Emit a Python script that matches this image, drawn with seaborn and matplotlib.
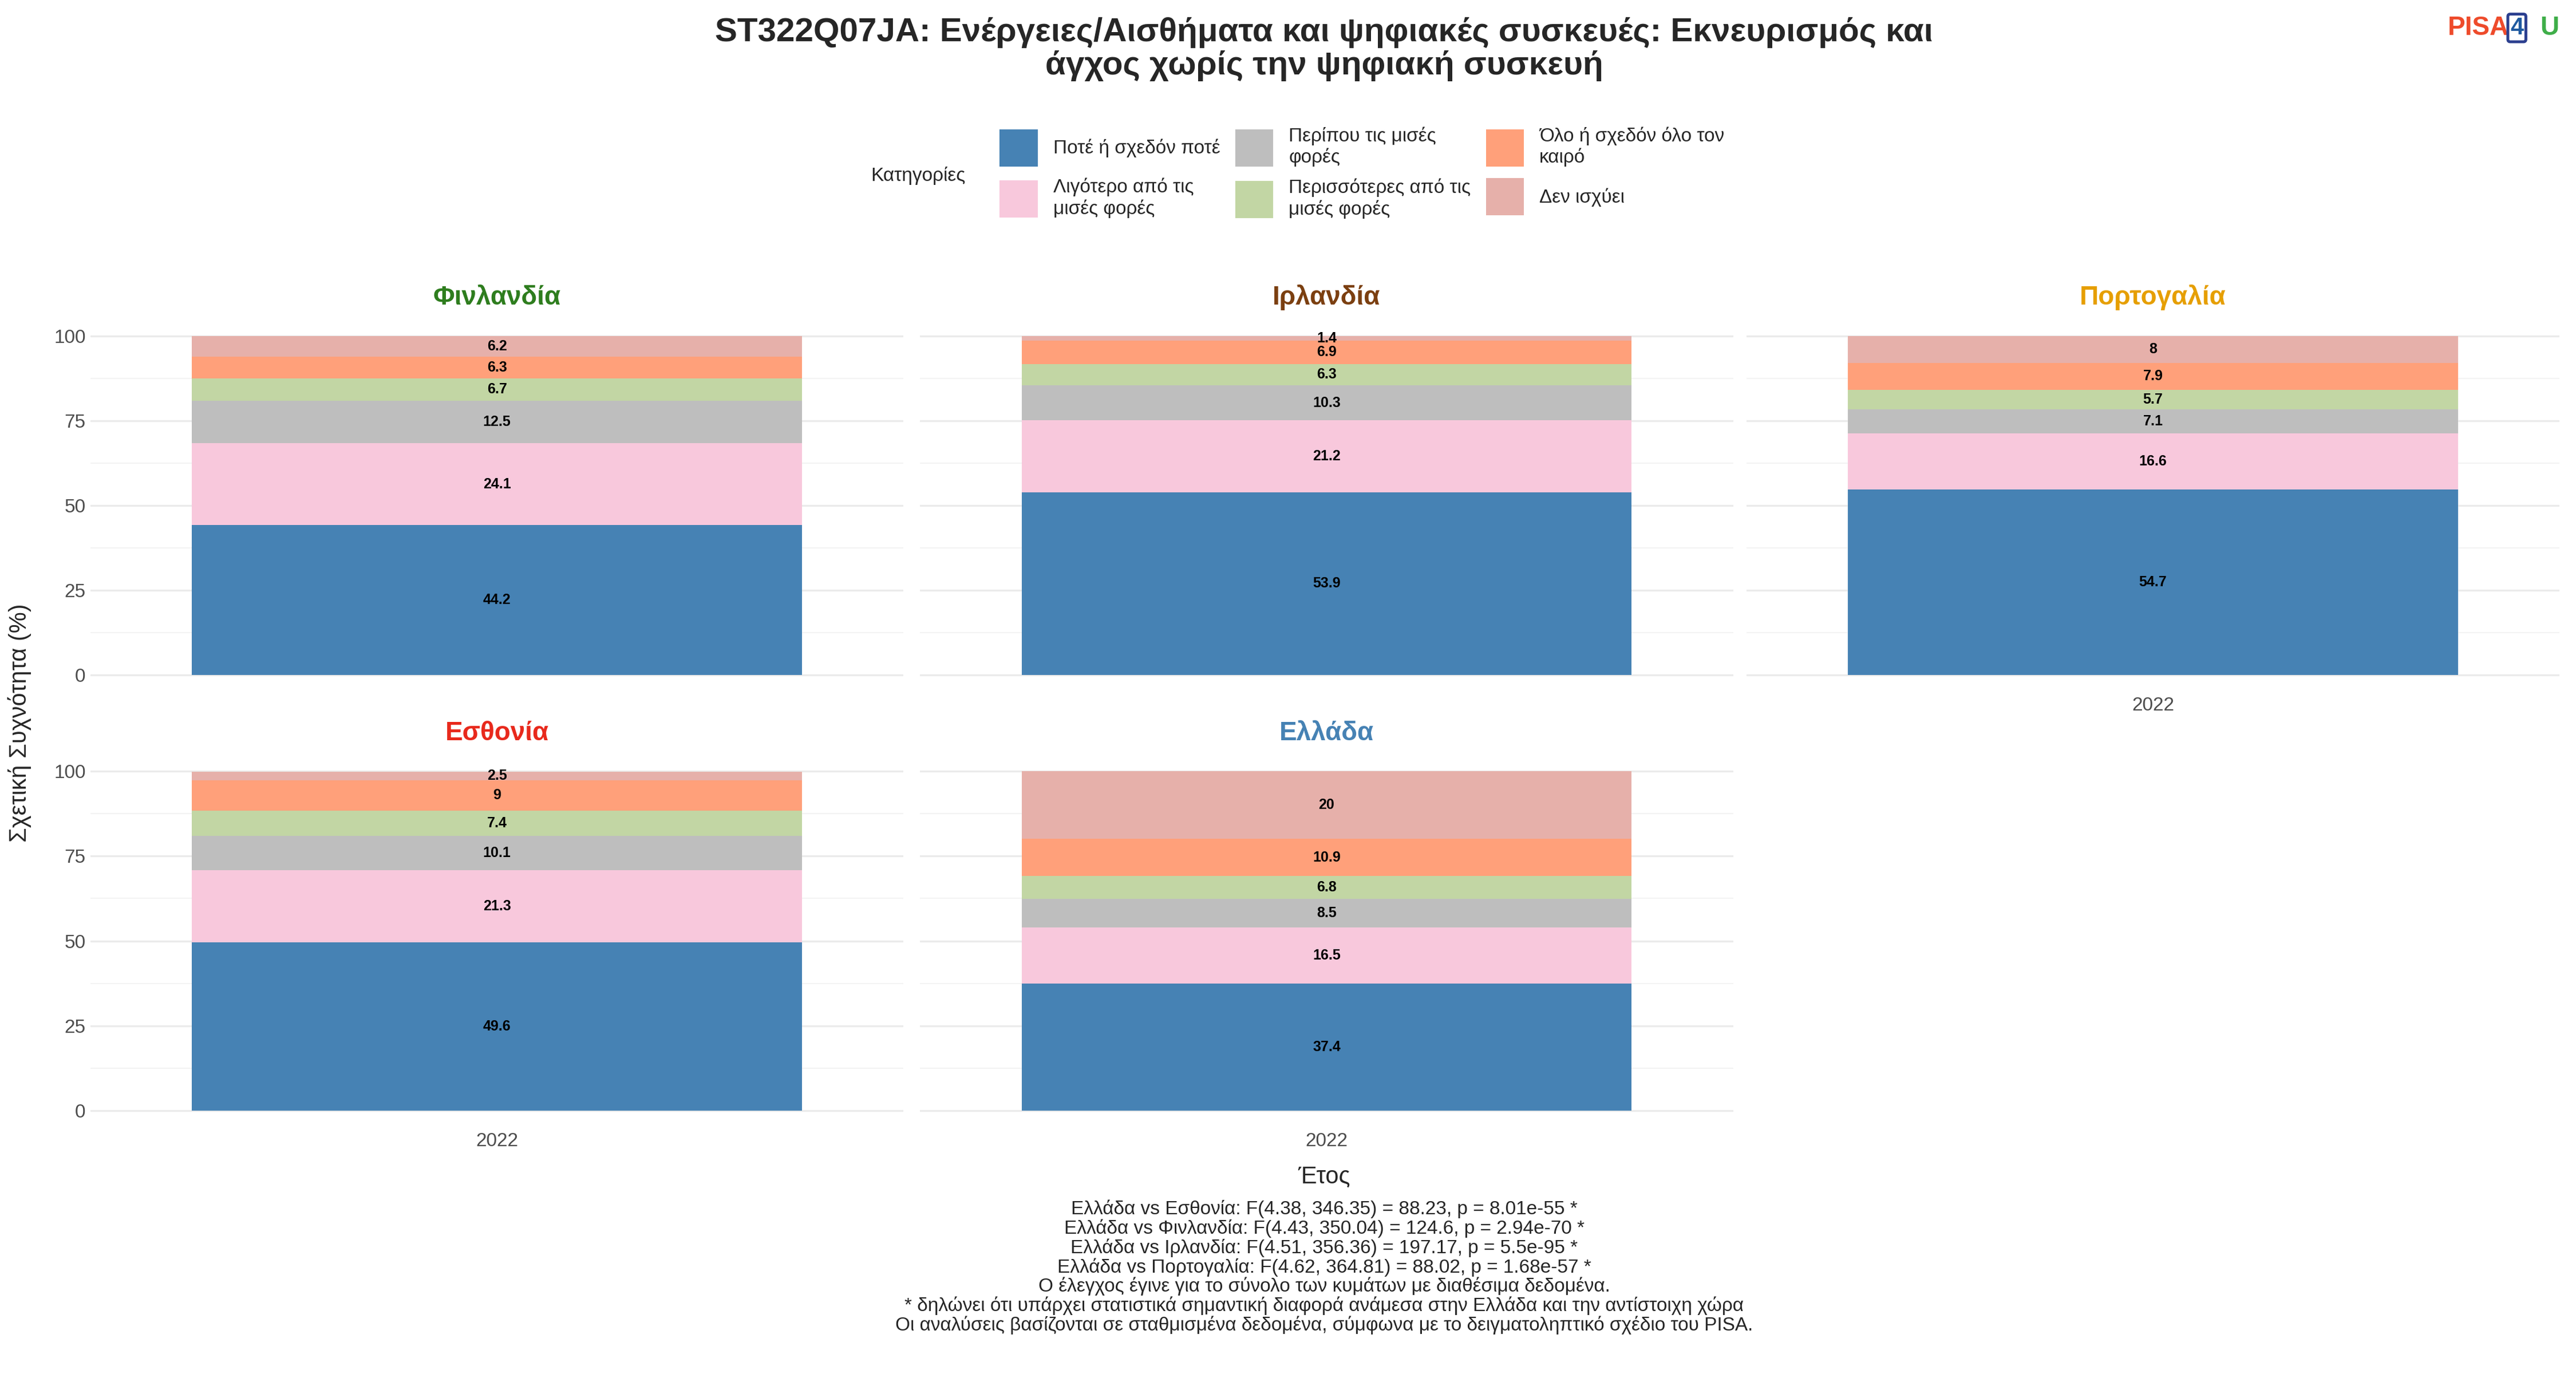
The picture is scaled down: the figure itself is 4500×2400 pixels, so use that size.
import numpy as np
import pandas as pd
import matplotlib
matplotlib.use("Agg")
import matplotlib.pyplot as plt
from matplotlib.patches import Patch
import seaborn as sns

# --- data ---
categories = ["Ποτέ ή σχεδόν ποτέ", "Λιγότερο από τις μισές φορές", "Περίπου τις μισές φορές",
              "Περισσότερες από τις μισές φορές", "Όλο ή σχεδόν όλο τον καιρό", "Δεν ισχύει"]
legend_labels = ["Ποτέ ή σχεδόν ποτέ", "Λιγότερο από τις\nμισές φορές", "Περίπου τις μισές\nφορές",
                 "Περισσότερες από τις\nμισές φορές", "Όλο ή σχεδόν όλο τον\nκαιρό", "Δεν ισχύει"]
colors = ["#4682B4", "#F8C8DC", "#BEBEBE", "#C2D6A4", "#FFA07A", "#E6B0AA"]
years = ["2022"]

countries = ["Φινλανδία", "Ιρλανδία", "Πορτογαλία", "Εσθονία", "Ελλάδα"]
country_colors = ["#2E7D1E", "#7B3F10", "#E69F00", "#E8291C", "#4682B4"]
finland = [44.2, 24.1, 12.5, 6.7, 6.3, 6.2]
ireland = [53.9, 21.2, 10.3, 6.3, 6.9, 1.4]
portugal = [54.7, 16.6, 7.1, 5.7, 7.9, 8]
estonia = [49.6, 21.3, 10.1, 7.4, 9, 2.5]
greece = [37.4, 16.5, 8.5, 6.8, 10.9, 20]
values = [finland, ireland, portugal, estonia, greece]

caption = ("Ελλάδα vs Εσθονία: F(4.38, 346.35) = 88.23, p = 8.01e-55 *\n"
           "Ελλάδα vs Φινλανδία: F(4.43, 350.04) = 124.6, p = 2.94e-70 *\n"
           "Ελλάδα vs Ιρλανδία: F(4.51, 356.36) = 197.17, p = 5.5e-95 *\n"
           "Ελλάδα vs Πορτογαλία: F(4.62, 364.81) = 88.02, p = 1.68e-57 *\n"
           "Ο έλεγχος έγινε για το σύνολο των κυμάτων με διαθέσιμα δεδομένα.\n"
           "* δηλώνει ότι υπάρχει στατιστικά σημαντική διαφορά ανάμεσα στην Ελλάδα και την αντίστοιχη χώρα\n"
           "Οι αναλύσεις βασίζονται σε σταθμισμένα δεδομένα, σύμφωνα με το δειγματοληπτικό σχέδιο του PISA.")

sns.set_theme(style="whitegrid")
plt.rcParams["font.family"] = ["Liberation Sans", "DejaVu Sans"]

fig = plt.figure(figsize=(15, 8), dpi=300)

W = 1568
H = 836
pan_x = [55, 560, 1063]
pan_w = 495
row_top = [194, 459]
pan_h = 227

for i, (country, vals) in enumerate(zip(countries, values)):
    r, c = divmod(i, 3)
    ax = fig.add_axes([pan_x[c] / W, 1 - (row_top[r] + pan_h) / H, pan_w / W, pan_h / H])
    cum = np.cumsum(vals)
    # draw from the top down so lower segments cover the upper ones
    for k in range(len(categories) - 1, -1, -1):
        df = pd.DataFrame({"Έτος": years, "val": [cum[k]]})
        sns.barplot(data=df, x="Έτος", y="val", color=colors[k], saturation=1,
                    width=0.9, ax=ax, edgecolor="none")
    for k in range(len(categories)):
        mid = cum[k] - vals[k] / 2
        ax.text(0, mid, f"{vals[k]:g}", ha="center", va="center", fontsize=6,
                fontweight="bold", color="black")
    ax.set_xlim(-0.6, 0.6)
    ax.set_ylim(-5, 105)
    ax.set_yticks([0, 25, 50, 75, 100])
    ax.set_yticks([12.5, 37.5, 62.5, 87.5], minor=True)
    ax.grid(True, which="major", color="#EBEBEB", linewidth=0.8)
    ax.grid(True, which="minor", color="#F3F3F3", linewidth=0.5)
    ax.grid(False, axis="x")
    ax.set_axisbelow(True)
    for s in ax.spines.values():
        s.set_visible(False)
    ax.set_xlabel("")
    ax.set_ylabel("")
    ax.tick_params(axis="both", labelsize=8, colors="#4D4D4D", length=0, pad=2)
    if c != 0:
        ax.set_yticklabels([])
    if not (r == 1 or c == 2):
        ax.set_xticklabels([])
    ax.set_title(country, color=country_colors[i], fontsize=11, fontweight="bold", pad=6)

fig.text(12 / W, 1 - 440 / H, "Σχετική Συχνότητα (%)", rotation=90, ha="center", va="center", fontsize=10)
fig.text(806 / W, 1 - 716 / H, "Έτος", ha="center", va="center", fontsize=10)
fig.text(806 / W, 1 - 730 / H, caption, ha="center", va="top", fontsize=8, linespacing=1.05)

fig.text(806 / W, 1 - 30 / H,
         "ST322Q07JA: Ενέργειες/Αισθήματα και ψηφιακές συσκευές: Εκνευρισμός και\nάγχος χωρίς την ψηφιακή συσκευή",
         ha="center", va="center", fontsize=14, fontweight="bold", linespacing=1.1)

# legend
handles = [Patch(facecolor=col, edgecolor="none") for col in colors]
fig.legend(handles, legend_labels, ncol=3, loc="center left", bbox_to_anchor=(598 / W, 1 - 105 / H),
           frameon=False, fontsize=8, handlelength=2.0, handleheight=2.6, handletextpad=0.8,
           columnspacing=0.8, labelspacing=0.6)
fig.text(530 / W, 1 - 107 / H, "Κατηγορίες", ha="left", va="center", fontsize=8)

# logo
fig.text(1490 / W, 1 - 17 / H, "PISA", color="#EE4B2B", fontsize=11, fontweight="bold", ha="left", va="center")
fig.text(1532 / W, 1 - 17 / H, "4", color="#1F5AA0", fontsize=10, fontweight="bold", ha="center", va="center",
         bbox=dict(boxstyle="round,pad=0.1", fc="white", ec="#2B3F8F", lw=1.2))
fig.text(1546 / W, 1 - 17 / H, "U", color="#3FAE49", fontsize=11, fontweight="bold", ha="left", va="center")

fig.savefig("out.png", dpi=300, facecolor="white")
